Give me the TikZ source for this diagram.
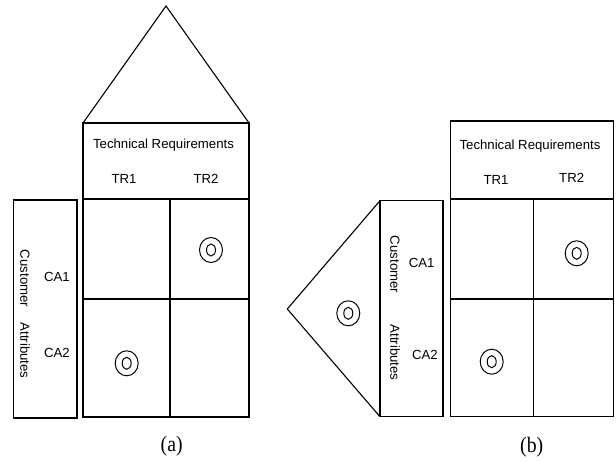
\documentclass[tikz,border=0pt]{standalone}
\usepackage{fontspec}
\setmainfont{Liberation Sans}
\newfontfamily\capfont{Liberation Serif}
\begin{document}
\begin{tikzpicture}[x=1pt,y=-1pt,
  line width=1.1pt,
  lbl/.style={font=\fontsize{13.2}{15}\selectfont, inner sep=0pt},
  vlbl/.style={lbl, rotate=-90},
  caplbl/.style={font=\capfont\fontsize{22}{24}\selectfont, inner sep=0pt, xscale=0.9},
  target/.pic={\draw[line width=1pt] (0,0) ellipse [x radius=11.5, y radius=12.5];
               \draw[line width=1pt] (0,0) ellipse [x radius=4.5, y radius=6];}]
\useasboundingbox (0,0) rectangle (616,462);
% ---------- (a) ----------
\coordinate (aApex) at (166,6);
\coordinate (aTL) at (83,123);
\coordinate (aTR) at (249,123);
\draw (aTL) -- (aApex) -- (aTR);
\draw (83,123) rectangle (249,199);
\draw (83,199) rectangle (249,417);
\draw (170,199) -- (170,417);
\draw (83,299) -- (249,299);
\draw (13.5,200) rectangle (77,418);
\node[lbl] (aTech) at (163.5,145) {Technical Requirements};
\node[lbl] (aTR1) at (124,179) {TR1};
\node[lbl] (aTR2) at (206,179) {TR2};
\node[vlbl] (aCust) at (25,278.5) {Customer};
\node[vlbl] (aAttr) at (25,350.5) {Attributes};
\node[lbl] (aCA1) at (57,277) {CA1};
\node[lbl] (aCA2) at (57,353) {CA2};
\pic at (211,250) {target};
\pic at (126.7,363.3) {target};
\node[caplbl] (aCap) at (171.7,446) {(a)};
% ---------- (b) ----------
\draw (450.3,121) rectangle (613.3,199);
\draw (450.3,199) rectangle (613.3,416.7);
\draw (533.3,199) -- (533.3,416.7);
\draw (450.3,299) -- (613.3,299);
\draw (380,200.7) rectangle (443,416.7);
\coordinate (bT) at (380,200.7);
\coordinate (bApex) at (287.3,309);
\coordinate (bB) at (380,416.7);
\draw (bT) -- (bApex) -- (bB);
\node[lbl] (bTech) at (530,145.7) {Technical Requirements};
\node[lbl] (bTR1) at (496,180) {TR1};
\node[lbl] (bTR2) at (571.7,178) {TR2};
\node[vlbl] (bCust) at (395,264.5) {Customer};
\node[vlbl] (bAttr) at (395,352.5) {Attributes};
\node[lbl] (bCA1) at (421.7,263) {CA1};
\node[lbl] (bCA2) at (425,355) {CA2};
\pic at (576.7,253.3) {target};
\pic at (491.7,361.7) {target};
\pic at (348.3,313.3) {target};
\node[caplbl] (bCap) at (531.7,447) {(b)};
\end{tikzpicture}
\end{document}
